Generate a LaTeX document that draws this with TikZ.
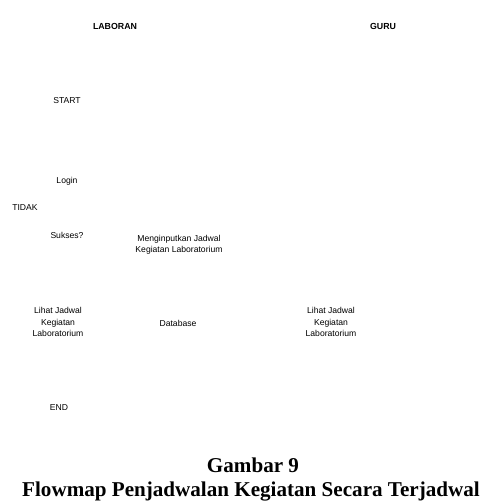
\documentclass[tikz,border=0pt]{standalone}
\usepackage{fontspec}
\setmainfont{Liberation Serif}
\newfontfamily\arialfont{Liberation Sans}
\begin{document}
\begin{tikzpicture}[x=1pt,y=-1pt,
  lbl/.style={font=\arialfont\fontsize{8.6}{11.5}\selectfont, align=center, inner sep=0pt},
  head/.style={font=\arialfont\bfseries\fontsize{8.8}{11}\selectfont, inner sep=0pt},
  captxt/.style={font=\bfseries\fontsize{21.1}{21}\selectfont, inner sep=0pt, anchor=base}]
\useasboundingbox (0,0) rectangle (484,502);
\node[head] (laboran) at (115,26) {LABORAN};
\node[head] (guru) at (383,26) {GURU};
\node[lbl] (start) at (67,101) {START};
\node[lbl] (login) at (67,181) {Login};
\node[lbl] (tidak) at (25,208) {TIDAK};
\node[lbl] (sukses) at (67,235) {Sukses?};
\node[lbl] (input) at (179,245) {Menginputkan Jadwal\\Kegiatan Laboratorium};
\node[lbl] (lihat1) at (58,322) {Lihat Jadwal\\Kegiatan\\Laboratorium};
\node[lbl] (db) at (178,323) {Database};
\node[lbl] (lihat2) at (331,322) {Lihat Jadwal\\Kegiatan\\Laboratorium};
\node[lbl] (end) at (59,408) {END};
\node[captxt] (gambar) at (253,472) {Gambar 9};
\node[captxt] (title) at (251,496) {Flowmap Penjadwalan Kegiatan Secara Terjadwal};
\end{tikzpicture}
\end{document}
